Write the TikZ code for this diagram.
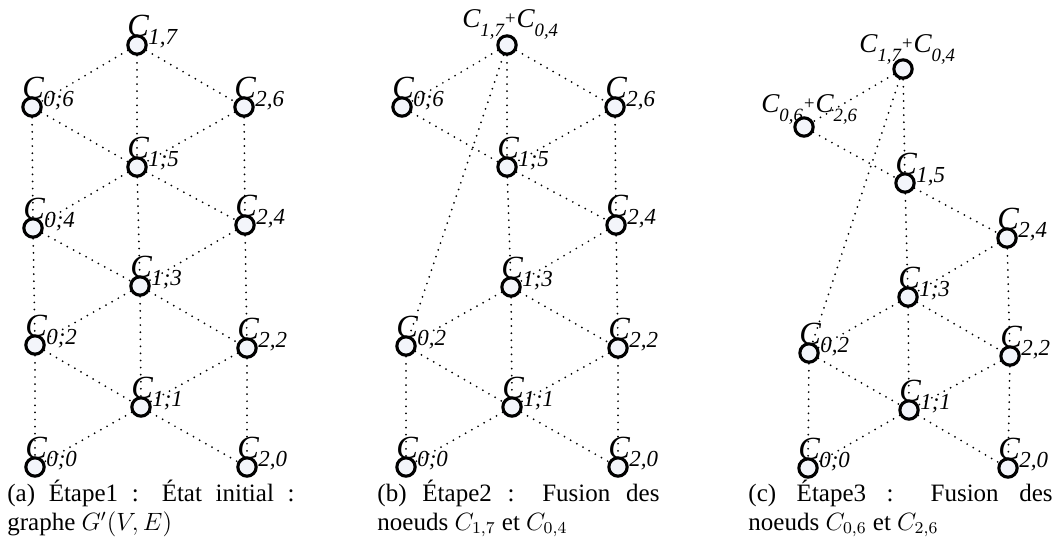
\documentclass[tikz,border=0pt]{standalone}
\usepackage{fontspec}
\setmainfont{Liberation Serif}
\definecolor{nodefill}{RGB}{243,245,250}
\newcommand{\vlab}[1]{\fontsize{15.5}{16}\selectfont C\kern-0.3pt\raisebox{-4pt}{\fontsize{11}{12}\selectfont #1}}
\newcommand{\mlab}[2]{\fontsize{13}{14}\selectfont C\raisebox{-4.5pt}{\fontsize{9}{10}\selectfont #1}\raisebox{1pt}{\fontsize{9}{10}\selectfont +}C\raisebox{-4.5pt}{\fontsize{9}{10}\selectfont #2}}
\begin{document}
\begin{tikzpicture}[x=0.48pt, y=-0.48pt,
    vert/.style={circle, draw, line width=1.5pt, fill=nodefill, minimum size=8.8pt, inner sep=0pt},
    vlabel/.style={anchor=base west, inner sep=0pt, font=\itshape},
    link/.style={line width=0.95pt, line cap=round, dash pattern=on 0pt off 3.4pt},
    capt/.style={anchor=base west, inner sep=0pt, align=justify, font=\fontsize{12}{14}\selectfont}]
    \useasboundingbox (0,0) rectangle (1060,558);
    % Etape 1 : initial graph
    \foreach \n/\x/\y/\s in {a17/137/45/{1,7}, a06/32/107/{0;6}, a26/244/107/{2,6},
        a15/137/167/{1;5}, a04/33/228/{0;4}, a24/245/225/{2,4},
        a13/140/286/{1;3}, a02/35/345/{0;2}, a22/247/348/{2,2},
        a11/141/407/{1;1}, a00/35/467/{0;0}, a20/247/467/{2,0}} {
        \node[vert] (\n) at (\x,\y) {};
        \node[vlabel] (\n-l) at ([shift={(-10,-9)}]\n.center) {\vlab{\s}};
    }
    \foreach \u/\v in {a06/a04, a04/a02, a02/a00, a26/a24, a24/a22, a22/a20,
        a17/a15, a15/a13, a13/a11, a17/a06, a17/a26, a06/a15, a26/a15,
        a15/a04, a15/a24, a04/a13, a24/a13, a13/a02, a13/a22,
        a02/a11, a22/a11, a11/a00, a11/a20}
        \draw[link] (\u) -- (\v);
    \node[capt, text width=137.8pt] (capa) at (7,501)
        {(a) Étape1 : État initial :\linebreak graphe $G'(V,E)$};
    % Etape 2 : C17 + C04
    \node[vert] (bT) at (507,45) {};
    \node[vlabel] (bT-l) at ([shift={(-45,-18)}]bT.center) {\itshape\mlab{1,7}{0,4}};
    \foreach \n/\x/\y/\s in {b06/402/107/{0;6}, b26/615/107/{2,6},
        b15/507/167/{1;5}, b24/616/225/{2,4},
        b13/511/287/{1;3}, b02/406/346/{0,2}, b22/618/348/{2,2},
        b11/512/407/{1;1}, b00/406/467/{0;0}, b20/618/467/{2,0}} {
        \node[vert] (\n) at (\x,\y) {};
        \node[vlabel] (\n-l) at ([shift={(-10,-9)}]\n.center) {\vlab{\s}};
    }
    \foreach \u/\v in {bT/b06, bT/b26, bT/b15, bT/b02, b06/b15, b26/b15,
        b26/b24, b15/b24, b15/b13, b24/b13, b24/b22, b13/b02, b13/b22,
        b13/b11, b02/b11, b22/b11, b02/b00, b22/b20, b11/b00, b11/b20}
        \draw[link] (\u) -- (\v);
    \node[capt, text width=135.4pt] (capb) at (377,501)
        {(b) Étape2 : Fusion des\linebreak noeuds $C_{1,7}$ et $C_{0,4}$};
    % Etape 3 : C06 + C26
    \node[vert] (cT) at (903,69) {};
    \node[vlabel] (cT-l) at ([shift={(-44,-17)}]cT.center) {\itshape\mlab{1,7}{0,4}};
    \node[vert] (cM) at (804,127) {};
    \node[vlabel] (cM-l) at ([shift={(-43,-15)}]cM.center) {\itshape\mlab{0,6}{2,6}};
    \foreach \n/\x/\y/\s in {c15/905/183/{1,5}, c24/1007/238/{2,4},
        c13/908/297/{1;3}, c02/809/353/{0,2}, c22/1010/356/{2,2},
        c11/909/410/{1;1}, c00/808/468/{0;0}, c20/1008/468/{2,0}} {
        \node[vert] (\n) at (\x,\y) {};
        \node[vlabel] (\n-l) at ([shift={(-10,-9)}]\n.center) {\vlab{\s}};
    }
    \foreach \u/\v in {cT/cM, cT/c15, cT/c02, cM/c15, c15/c24, c15/c13,
        c24/c13, c24/c22, c13/c02, c13/c22, c13/c11, c02/c11, c22/c11,
        c02/c00, c22/c20, c11/c00, c11/c20}
        \draw[link] (\u) -- (\v);
    \node[capt, text width=146pt] (capc) at (748,501)
        {(c) Étape3 : Fusion des\linebreak noeuds $C_{0,6}$ et $C_{2,6}$};
\end{tikzpicture}
\end{document}
